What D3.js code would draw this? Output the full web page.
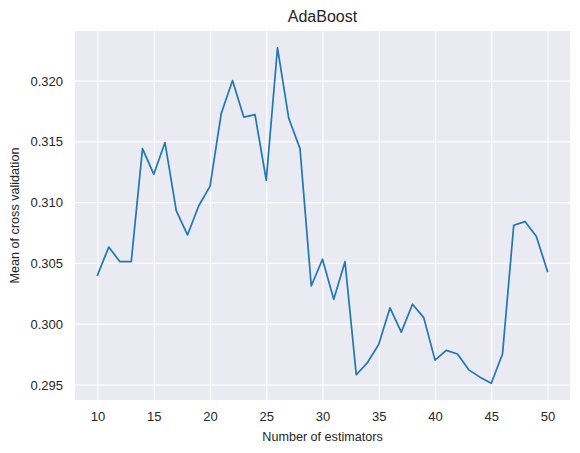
<!DOCTYPE html>
<html>
<head>
<meta charset="utf-8">
<script src="https://cdn.jsdelivr.net/npm/d3@7"></script>
<style>
  body { margin: 0; background: #fff; }
  svg text { font-family: "Liberation Sans", Arial, sans-serif; fill: #262626; }
</style>
</head>
<body>
<svg id="chart" width="580" height="453"></svg>
<script>
// number of estimators on the x axis
var estimators = d3.range(10, 51);
// mean of cross validation score
var meanScores = [
  0.3040, 0.3063, 0.3051, 0.3051, 0.3144, 0.3123, 0.3149, 0.3093, 0.3073, 0.3097,
  0.3113, 0.3173, 0.3200, 0.3170, 0.3172, 0.3118, 0.3227, 0.3169, 0.3144, 0.3031,
  0.3053, 0.3020, 0.3051, 0.2958, 0.2968, 0.2983, 0.3013, 0.2993, 0.3016, 0.3005,
  0.2970, 0.2978, 0.2975, 0.2962, 0.2956, 0.2951, 0.2975, 0.3081, 0.3084, 0.3072,
  0.3043
];
var xTicks = [10, 15, 20, 25, 30, 35, 40, 45, 50];
var yTicks = [0.295, 0.300, 0.305, 0.310, 0.315, 0.320];

(function() {
  'use strict';

  var svg = d3.select('#chart');
  // plot box (note: "top" is taken by window.top, so use a small object)
  var box = { left: 75, right: 570, top: 31, bottom: 400 };

  // matplotlib-ish 5% margins on both axes
  var xMin = d3.min(estimators), xMax = d3.max(estimators);
  var xPad = (xMax - xMin) * 0.05;
  var x = d3.scaleLinear().domain([xMin - xPad, xMax + xPad]).range([box.left, box.right]);

  var yMin = d3.min(meanScores), yMax = d3.max(meanScores);
  var yPad = (yMax - yMin) * 0.05;
  var y = d3.scaleLinear().domain([yMin - yPad, yMax + yPad]).range([box.bottom, box.top]);

  svg.append('rect')
    .attr('x', box.left).attr('y', box.top)
    .attr('width', box.right - box.left).attr('height', box.bottom - box.top)
    .attr('fill', '#eaeaf2');

  // grid lines
  svg.append('g')
    .attr('transform', 'translate(0,' + box.bottom + ')')
    .call(d3.axisBottom(x).tickValues(xTicks).tickSize(-(box.bottom - box.top)).tickFormat(''))
    .call(function(g) {
      g.select('.domain').remove();
      g.selectAll('line').attr('stroke', '#fff').attr('stroke-width', 1.1);
    });
  svg.append('g')
    .attr('transform', 'translate(' + box.left + ',0)')
    .call(d3.axisLeft(y).tickValues(yTicks).tickSize(-(box.right - box.left)).tickFormat(''))
    .call(function(g) {
      g.select('.domain').remove();
      g.selectAll('line').attr('stroke', '#fff').attr('stroke-width', 1.1);
    });

  // tick labels
  svg.append('g')
    .attr('transform', 'translate(0,' + box.bottom + ')')
    .call(d3.axisBottom(x).tickValues(xTicks).tickSize(0).tickPadding(0))
    .call(function(g) {
      g.select('.domain').remove();
      g.attr('font-size', null).attr('font-family', null);
      g.selectAll('text').attr('y', 20.5).attr('dy', null)
        .style('font-size', '13px');
    });
  svg.append('g')
    .attr('transform', 'translate(' + box.left + ',0)')
    .call(d3.axisLeft(y).tickValues(yTicks).tickSize(0).tickFormat(d3.format('.3f')))
    .call(function(g) {
      g.select('.domain').remove();
      g.attr('font-size', null).attr('font-family', null);
      g.selectAll('text').attr('x', -12).attr('dy', '0.35em')
        .style('font-size', '13px');
    });

  // the line
  var line = d3.line()
    .x(function(d, i) { return x(estimators[i]); })
    .y(function(d) { return y(d); });

  svg.append('path')
    .datum(meanScores)
    .attr('d', line)
    .attr('fill', 'none')
    .attr('stroke', '#1f77b4')
    .attr('stroke-width', 1.7)
    .attr('stroke-linejoin', 'round')
    .attr('stroke-linecap', 'square');

  // titles
  svg.append('text')
    .attr('x', (box.left + box.right) / 2).attr('y', 21.5)
    .attr('text-anchor', 'middle')
    .style('font-size', '16px')
    .text('AdaBoost');

  svg.append('text')
    .attr('x', (box.left + box.right) / 2).attr('y', 440.5)
    .attr('text-anchor', 'middle')
    .style('font-size', '12.6px')
    .text('Number of estimators');

  svg.append('text')
    .attr('transform', 'translate(18.5,' + ((box.top + box.bottom) / 2) + ') rotate(-90)')
    .attr('text-anchor', 'middle')
    .style('font-size', '12.6px')
    .text('Mean of cross validation');
}());
</script>
</body>
</html>
